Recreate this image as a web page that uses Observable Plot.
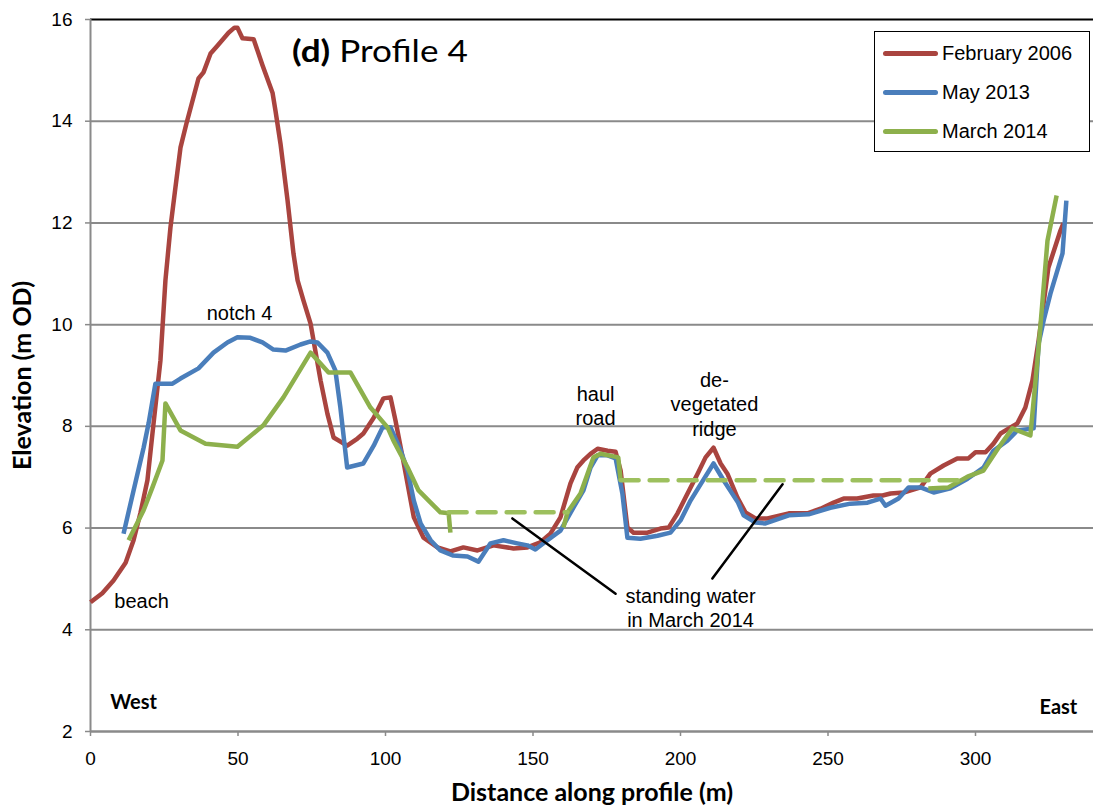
<!DOCTYPE html>
<html><head><meta charset="utf-8">
<script src="https://cdn.jsdelivr.net/npm/d3@7"></script>
<script src="https://cdn.jsdelivr.net/npm/@observablehq/plot@0.6"></script>
<style>
body{margin:0;background:#fff;}
#wrap{position:relative;width:1096px;height:808px;overflow:hidden;}
#wrap svg{position:absolute;left:0;top:0;}
g[aria-label="y-axis label"] text, g[aria-label="x-axis label"] text{font-family:Lato,"Open Sans",sans-serif;font-weight:bold;font-size:25px;}
#title{position:absolute;left:292px;top:32px;font-family:Lato,"Open Sans",sans-serif;font-size:30px;white-space:nowrap;transform:scaleX(1.17);transform-origin:left center;}
#legend{position:absolute;left:874px;top:31px;width:214px;height:119px;border:1.5px solid #000;background:#fff;font-family:"Liberation Sans",Arial,sans-serif;font-size:20px;}
#legend .row{position:absolute;left:8px;height:24px;display:flex;align-items:center;}
#legend .sw{width:55px;height:5px;border-radius:3px;margin-right:4px;}
</style></head><body><div id="wrap"><div id="title"><b>(d)</b> Profile 4</div><div id="legend"></div></div>
<script>
const seriesNames = ["February 2006", "May 2013", "March 2014"];
const seriesColors = ["#A9443F", "#4A7EBB", "#8DB04C"];
const waterColor = "#9DC05E";
const xTicks = [0, 50, 100, 150, 200, 250, 300];
const yTicks = [2, 4, 6, 8, 10, 12, 14, 16];

const feb2006 = [[0,4.54],[4,4.72],[7.8,4.97],[11.9,5.32],[14.6,5.76],[16.9,6.29],[19.3,6.94],[21,7.86],[23.7,9.29],[25.4,10.87],[27.1,11.91],[28.8,12.7],[30.5,13.48],[32.5,13.95],[36.6,14.84],[38.3,14.96],[40.7,15.33],[43.1,15.49],[46.8,15.74],[48.8,15.84],[49.8,15.84],[51.5,15.63],[55.3,15.61],[58.3,15.1],[61.7,14.56],[62.7,14.21],[64.4,13.56],[66.8,12.44],[68.8,11.4],[70.2,10.87],[72.2,10.47],[74.6,10.02],[78,8.9],[80.3,8.25],[82.4,7.78],[87,7.62],[90.5,7.76],[92.5,7.86],[96,8.17],[99.3,8.55],[101.7,8.57],[103.4,8.11],[106,7.33],[109.6,6.21],[112.9,5.81],[117.6,5.62],[122,5.54],[126.4,5.62],[131.2,5.56],[136.6,5.66],[143.4,5.6],[148.1,5.62],[152.5,5.72],[155.9,5.89],[159.3,6.21],[162.7,6.88],[165,7.19],[167.1,7.33],[169.5,7.46],[171.9,7.56],[175.3,7.52],[178,7.5],[179.7,7.13],[182,6.01],[184.1,5.91],[188.8,5.91],[193.2,5.99],[196,6.01],[199,6.29],[201.7,6.6],[205.8,7.07],[208.5,7.39],[211.2,7.58],[213.6,7.27],[215.9,7.07],[219.3,6.6],[222,6.31],[225.4,6.19],[229.5,6.19],[236.7,6.29],[243,6.29],[247.5,6.38],[251.9,6.5],[255.3,6.58],[259.9,6.58],[265.4,6.64],[268.5,6.64],[271.2,6.68],[275.6,6.7],[281.4,6.8],[284.7,7.07],[289.2,7.23],[293.8,7.37],[297.6,7.37],[300,7.49],[303.4,7.49],[306.1,7.66],[308.5,7.86],[311.9,7.98],[314.2,8.06],[316.9,8.37],[319.3,8.9],[321.4,9.69],[324.7,11.12],[328.8,11.85],[329.8,11.99]];

const may2013 = [[11.2,5.89],[14.6,6.74],[18,7.58],[19.7,8.06],[22,8.84],[27.8,8.84],[30.5,8.94],[36.6,9.14],[41.7,9.45],[46.4,9.65],[49.8,9.75],[54.2,9.74],[58.3,9.65],[62,9.51],[66.1,9.49],[71.2,9.61],[74.6,9.67],[76.9,9.65],[80.3,9.45],[83,9.1],[84.7,8.37],[87,7.19],[92.5,7.27],[96,7.62],[99,7.98],[101.7,7.98],[105,7.55],[107.5,7.13],[109.6,6.54],[111.9,6.09],[115.3,5.76],[118.6,5.56],[123,5.46],[127.8,5.44],[131.5,5.34],[135.6,5.7],[140,5.76],[144.7,5.7],[148.1,5.66],[150.8,5.58],[154.9,5.76],[159.3,5.95],[163.7,6.4],[167.1,6.74],[169.5,7.19],[171.9,7.43],[175.3,7.43],[178,7.37],[180.3,6.68],[182,5.81],[186.4,5.79],[192.2,5.85],[196.6,5.91],[200,6.15],[203.4,6.54],[206.8,6.86],[211.2,7.27],[214.6,6.94],[219.5,6.5],[221.4,6.25],[225.4,6.11],[228.8,6.09],[236.7,6.25],[243.4,6.27],[250.8,6.4],[257.6,6.48],[263.4,6.5],[267.8,6.58],[269.5,6.44],[273.9,6.58],[277.3,6.8],[281.4,6.8],[285.8,6.7],[291.5,6.78],[297.3,6.97],[302.7,7.19],[306.1,7.52],[310.8,7.72],[314.2,7.92],[319.7,7.96],[321.4,9.63],[323.1,10.08],[325.4,10.61],[329.5,11.4],[330.8,12.44]];

const mar2014West = [[12.9,5.76],[18,6.35],[21,6.8],[24.4,7.33],[25.4,8.45],[30.5,7.92],[39,7.66],[49.8,7.6],[58.6,8.02],[65.4,8.57],[74.6,9.45],[80.7,9.06],[88.1,9.06],[94.9,8.37],[100.7,7.98],[102.7,7.72],[107.5,7.19],[111.2,6.74],[115.3,6.5],[118.6,6.31],[121.4,6.29],[122,5.91]];
const mar2014Road = [[160.3,6.01],[161.7,6.31],[166.1,6.68],[170.5,7.39],[172.9,7.46],[178.9,7.39],[179.7,6.94]];
const mar2014East = [[284,6.78],[290.8,6.8],[297.3,7.01],[302.7,7.13],[307.8,7.58],[312.5,7.96],[318.6,7.82],[321.4,9.55],[324.4,11.65],[327.5,12.54]];

const water1 = [[121.4,6.31],[161.7,6.31]];
const water2 = [[179.7,6.94],[294,6.94]];

const leader1 = [[143,6.19],[178,4.71]];
const leader2 = [[234.6,6.86],[210.8,5.01]];

const labels = [
  {x:50.5, y:10.24, text:"notch 4"},
  {x:17.3, y:4.58, text:"beach"},
  {x:171.2, y:8.42, text:"haul\nroad"},
  {x:211.5, y:8.45, text:"de-\nvegetated\nridge"},
  {x:203.4, y:4.45, text:"standing water\nin March 2014"}
];
const sideLabels = [
  {x:14.6, y:2.57, text:"West"},
  {x:328.1, y:2.47, text:"East"}
];

const lineOpts = (c) => ({x: d => d[0], y: d => d[1], stroke: c, strokeWidth: 4.5, strokeLinejoin: "round", strokeLinecap: "butt"});

const chart = Plot.plot({
  width: 1096, height: 808,
  marginLeft: 90, marginRight: 3, marginTop: 19, marginBottom: 77,
  x: {domain: [0, 340]},
  y: {domain: [2, 16]},
  style: {fontFamily: "'Liberation Sans', Arial, sans-serif", fontSize: "19px", background: "white", color: "#000", overflow: "visible"},
  marks: [
    Plot.ruleY(yTicks.filter(d => d > 2 && d < 16), {stroke: "#8a8a8a", strokeWidth: 2}),
    Plot.ruleY([16], {stroke: "#000", strokeWidth: 2}),
    Plot.axisY({ticks: yTicks, tickSize: 5, tickPadding: 13, stroke: "#8a8a8a", strokeWidth: 1.5, label: "Elevation (m OD)", labelAnchor: "center", labelOffset: 77, labelArrow: "none"}),
    Plot.axisX({ticks: xTicks, tickSize: 5, tickPadding: 15, stroke: "#8a8a8a", strokeWidth: 1.5, label: "Distance along profile (m)", labelAnchor: "center", labelOffset: 69, labelArrow: "none"}),
    Plot.ruleX([0], {stroke: "#8a8a8a", strokeWidth: 2}),
    Plot.ruleY([2], {stroke: "#8a8a8a", strokeWidth: 2.5}),
    Plot.line(feb2006, lineOpts(seriesColors[0])),
    Plot.line(may2013, lineOpts(seriesColors[1])),
    Plot.line(mar2014West, lineOpts(seriesColors[2])),
    Plot.line(mar2014Road, lineOpts(seriesColors[2])),
    Plot.line(mar2014East, lineOpts(seriesColors[2])),
    Plot.line(water1, {x: d => d[0], y: d => d[1], stroke: waterColor, strokeWidth: 4.5, strokeDasharray: "18,11"}),
    Plot.line(water2, {x: d => d[0], y: d => d[1], stroke: waterColor, strokeWidth: 4.5, strokeDasharray: "18,11"}),
    Plot.line(leader1, {x: d => d[0], y: d => d[1], stroke: "#000", strokeWidth: 2.5}),
    Plot.line(leader2, {x: d => d[0], y: d => d[1], stroke: "#000", strokeWidth: 2.5}),
    Plot.text(labels, {x: "x", y: "y", text: "text", fontSize: 20, lineHeight: 1.22, fill: "#000"}),
    Plot.text(sideLabels, {x: "x", y: "y", text: "text", fontSize: 20, fontWeight: "bold", fontFamily: "Lato, 'Open Sans', sans-serif", fill: "#000"})
  ]
});
document.getElementById("wrap").prepend(chart);

const legend = document.getElementById("legend");
seriesNames.forEach((name, i) => {
  const row = document.createElement("div");
  row.className = "row";
  row.style.top = (9 + i * 39) + "px";
  const sw = document.createElement("span");
  sw.className = "sw";
  sw.style.background = seriesColors[i];
  const t = document.createElement("span");
  t.textContent = name;
  row.append(sw, t);
  legend.append(row);
});
</script>
</body></html>
